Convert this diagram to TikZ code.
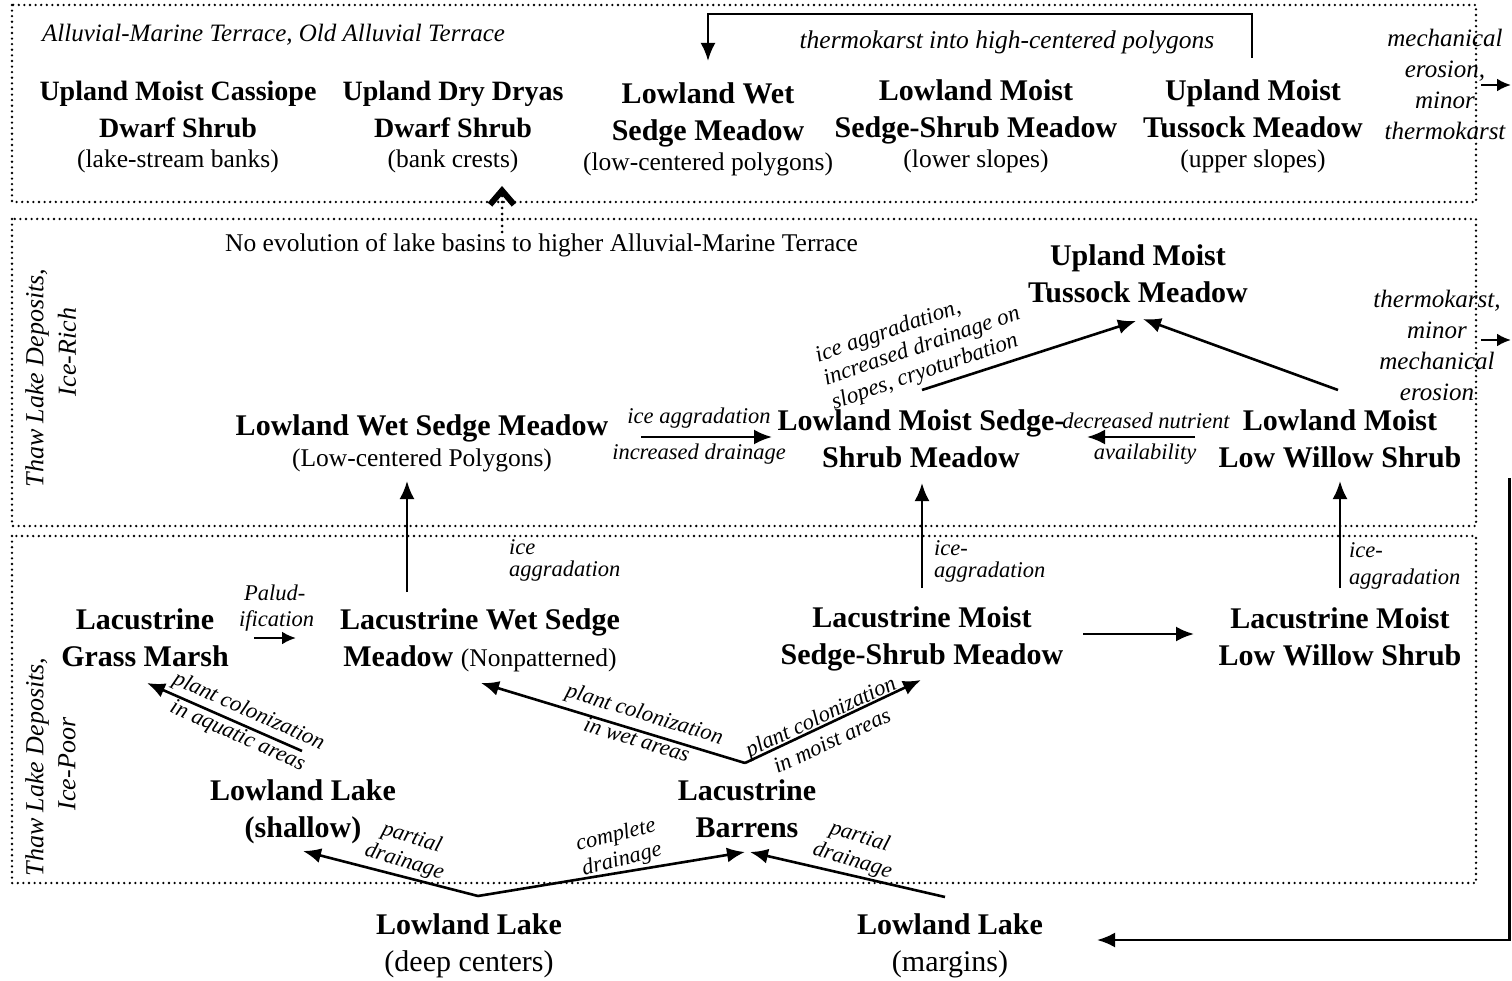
\documentclass[tikz,border=0pt]{standalone}
\usepackage{fontspec}
\setmainfont{Liberation Serif}
\usetikzlibrary{arrows.meta}
% roman (non-bold) part inside a bold habitat label
\newcommand\plainpart[2][25.5]{{\mdseries\fontsize{#1}{37}\selectfont #2}}

\tikzset{
  zone/.style={line width=2.6pt, dash pattern=on 0pt off 5.6pt, line cap=round},
  habitat/.style={font=\bfseries\fontsize{30}{37}\selectfont, align=center, inner sep=0pt},
  process/.style={font=\itshape\fontsize{25}{31}\selectfont, align=center, inner sep=0pt},
  minor/.style={font=\itshape\fontsize{22.5}{26}\selectfont, align=center, inner sep=0pt},
  plain/.style={font=\fontsize{25.5}{30}\selectfont, inner sep=0pt},
  zonelabel/.style={font=\itshape\fontsize{26}{30}\selectfont, inner sep=0pt, rotate=90},
  flow/.style={line width=2.6pt, -{Latex[length=18pt,width=15pt]}},
  shortflow/.style={line width=2.6pt, -{Latex[length=14pt,width=13pt]}},
}

\begin{document}
\begin{tikzpicture}[x=1pt, y=-1pt]
\useasboundingbox (0,0) rectangle (1512,981);

% ---------- landscape zones ----------
\draw[zone] (12,5) rectangle (1476,202);
\draw[zone] (12,219) rectangle (1476,526);
\draw[zone] (12,536) rectangle (1476,883);

% ---------- Alluvial-Marine / Old Alluvial Terrace ----------
\node[process, anchor=west] (terrace) at (42,35) {Alluvial-Marine Terrace, Old Alluvial Terrace};
\node[habitat, font=\bfseries\fontsize{28}{37}\selectfont] (cassiope) at (178,127) {Upland Moist Cassiope\\Dwarf Shrub\\[-7pt]\plainpart{(lake-stream banks)}};
\node[habitat, font=\bfseries\fontsize{28}{37}\selectfont] (dryas) at (453,127) {Upland Dry Dryas\\Dwarf Shrub\\[-7pt]\plainpart{(bank crests)}};
\node[habitat] (wettop) at (708,129) {Lowland Wet\\Sedge Meadow\\[-7pt]\plainpart{(low-centered polygons)}};
\node[habitat] (moisttop) at (976,126) {Lowland Moist\\Sedge-Shrub Meadow\\[-7pt]\plainpart{(lower slopes)}};
\node[habitat] (tussocktop) at (1253,126) {Upland Moist\\Tussock Meadow\\[-7pt]\plainpart{(upper slopes)}};
\node[process] (mecherosion) at (1445,84) {mechanical\\erosion,\\minor\\thermokarst};
\node[process, font=\itshape\fontsize{25.5}{31}\selectfont] (tklabel) at (1007,42) {thermokarst into high-centered polygons};

\coordinate (tkfrom) at (1252,58);
\coordinate (tkbend) at (980,14);
\coordinate (tkto) at (708,61);
\draw[flow] (tkfrom) |- (tkbend) -| (tkto);

\coordinate (mechA) at (1481,85);
\coordinate (mechB) at (1511,85);
\draw[shortflow] (mechA) -- (mechB);

% ---------- Thaw Lake Deposits, Ice-Rich ----------
\node[zonelabel] (richA) at (37,378) {Thaw Lake Deposits,};
\node[zonelabel] (richB) at (67,352) {Ice-Rich};
\node[plain, anchor=west] (noevo) at (225,245) {No evolution of lake basins to higher Alluvial-Marine Terrace};

\coordinate (noevoA) at (502,232);
\coordinate (noevoB) at (502,186);
\draw[line width=3pt, dash pattern=on 0pt off 6pt, line cap=round,
      -{Straight Barb[length=14pt,width=24pt,line width=6pt]}] (noevoA) -- (noevoB);

\node[habitat] (tussockmid) at (1138,274) {Upland Moist\\Tussock Meadow};
\node[habitat] (wetmid) at (422,443) {Lowland Wet Sedge Meadow\\[-6pt]\plainpart{(Low-centered Polygons)}};
\node[habitat] (moistmid) at (921,439) {Lowland Moist Sedge-\\Shrub Meadow};
\node[habitat] (willowmid) at (1340,439) {Lowland Moist\\Low Willow Shrub};
\node[process] (thermoerosion) at (1437,345) {thermokarst,\\minor\\mechanical\\erosion};

\node[minor] (iceagg) at (699,418) {ice aggradation};
\node[minor] (incdrain) at (699,454) {increased drainage};
\coordinate (wetmidE) at (641,437);
\coordinate (moistmidW) at (772,437);
\draw[flow] (wetmidE) -- (moistmidW);

\node[minor] (decnut) at (1146,421) {decreased nutrient};
\node[minor] (avail) at (1145,454) {availability};
\coordinate (willowmidW) at (1195,437);
\coordinate (moistmidE) at (1087,437);
\draw[flow] (willowmidW) -- (moistmidE);

\coordinate (moistmidN) at (922,390);
\coordinate (tussockSW) at (1136,321);
\coordinate (willowmidN) at (1338,390);
\coordinate (tussockSE) at (1143,319);
\draw[flow] (moistmidN) -- (tussockSW);
\draw[flow] (willowmidN) -- (tussockSE);
\node[minor, align=left, rotate=19, font=\itshape\fontsize{23}{25}\selectfont] (slopes) at (922,347)
  {ice aggradation,\\increased drainage on\\slopes, cryoturbation};

\coordinate (thermoA) at (1481,340);
\coordinate (thermoB) at (1511,340);
\draw[shortflow] (thermoA) -- (thermoB);

% ---------- Thaw Lake Deposits, Ice-Poor ----------
\node[zonelabel] (poorA) at (37,767) {Thaw Lake Deposits,};
\node[zonelabel] (poorB) at (67,764) {Ice-Poor};

\node[habitat] (grassmarsh) at (145,638) {Lacustrine\\Grass Marsh};
\node[habitat] (lacwet) at (480,640) {Lacustrine Wet Sedge\\Meadow \plainpart{(Nonpatterned)}};
\node[habitat] (lacmoist) at (922,639) {Lacustrine Moist\\Sedge-Shrub Meadow};
\node[habitat] (lacwillow) at (1340,637) {Lacustrine Moist\\Low Willow Shrub};
\node[habitat] (shallow) at (303,812) {Lowland Lake\\(shallow)};
\node[habitat] (barrens) at (747,809) {Lacustrine\\Barrens};

\node[minor, align=left, anchor=west] (palud) at (239,608) {\hspace*{5pt}Palud-\\ification};
\coordinate (grassE) at (254,638);
\coordinate (lacwetW) at (296,638);
\draw[shortflow] (grassE) -- (lacwetW);

\coordinate (lacmoistE) at (1083,634);
\coordinate (lacwillowW) at (1194,634);
\draw[flow] (lacmoistE) -- (lacwillowW);

% ice aggradation up into the ice-rich zone
\coordinate (lacwetN) at (407,592);
\coordinate (wetmidS) at (407,481);
\coordinate (lacmoistN) at (922,588);
\coordinate (moistmidS) at (922,483);
\coordinate (lacwillowN) at (1340,588);
\coordinate (willowmidS) at (1340,481);
\draw[flow] (lacwetN) -- (wetmidS);
\draw[flow] (lacmoistN) -- (moistmidS);
\draw[flow] (lacwillowN) -- (willowmidS);
\node[minor, align=left, anchor=west, font=\itshape\fontsize{22.5}{22}\selectfont] (iceA) at (509,560) {ice\\aggradation};
\node[minor, align=left, anchor=west, font=\itshape\fontsize{22.5}{22}\selectfont] (iceB) at (934,561) {ice-\\aggradation};
\node[minor, align=left, anchor=west, font=\itshape\fontsize{22.5}{27}\selectfont] (iceC) at (1349,566) {ice-\\aggradation};

% plant colonization
\coordinate (shallowNE) at (302,751);
\coordinate (grassS) at (147,683);
\draw[flow] (shallowNE) -- (grassS);
\node[minor, rotate=-24, font=\itshape\fontsize{22.5}{27}\selectfont] (aquatic) at (243,724) {plant colonization\\in aquatic areas};

\coordinate (barrensN) at (745,763);
\coordinate (lacwetS) at (481,683);
\coordinate (lacmoistS) at (921,680);
\draw[flow] (barrensN) -- (lacwetS);
\draw[flow] (barrensN) -- (lacmoistS);
\node[minor, rotate=-17, font=\itshape\fontsize{22.5}{27}\selectfont] (wetareas) at (641,726) {plant colonization\\in wet areas};
\node[minor, rotate=25, font=\itshape\fontsize{22.5}{27}\selectfont] (moistareas) at (826,728) {plant colonization\\in moist areas};

% ---------- lakes ----------
\node[habitat] (deep) at (469,946) {Lowland Lake\\[0pt]\plainpart[30]{(deep centers)}};
\node[habitat] (margins) at (950,946) {Lowland Lake\\[0pt]\plainpart[30]{(margins)}};

\coordinate (deepN) at (478,896);
\coordinate (shallowS) at (303,851);
\coordinate (barrensSW) at (745,852);
\coordinate (marginsN) at (945,897);
\coordinate (barrensSE) at (750,852);
\draw[flow] (deepN) -- (shallowS);
\draw[flow] (deepN) -- (barrensSW);
\draw[flow] (marginsN) -- (barrensSE);
\node[minor, rotate=-17, font=\itshape\fontsize{22.5}{25}\selectfont] (partialA) at (408,850) {partial\\drainage};
\node[minor, rotate=14, font=\itshape\fontsize{22.5}{25}\selectfont] (complete) at (619,848) {complete\\drainage};
\node[minor, rotate=-17, font=\itshape\fontsize{22.5}{25}\selectfont] (partialB) at (856,849) {partial\\drainage};

% erosion at the terrace edge back into lake margins
\coordinate (edgetop) at (1509.5,478);
\coordinate (edgecorner) at (1509.5,940);
\coordinate (marginsE) at (1097,940);
\draw[flow] (edgetop) -- (edgecorner) -- (marginsE);

\end{tikzpicture}
\end{document}
